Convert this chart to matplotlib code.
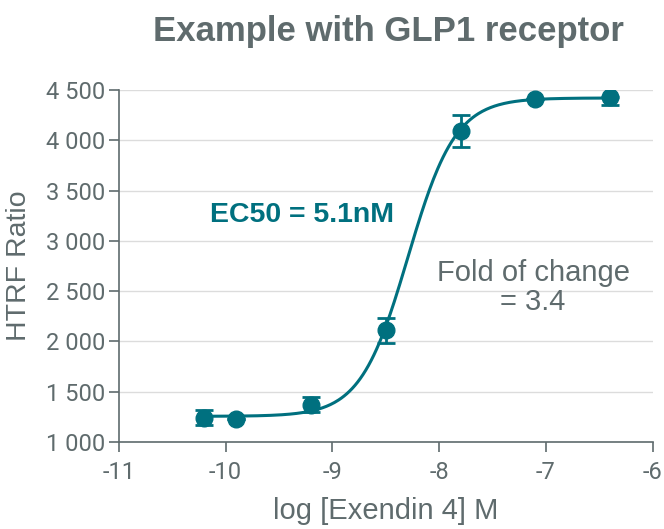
import numpy as np
import matplotlib.pyplot as plt
from matplotlib.ticker import FuncFormatter

# measured points (mean with lower / upper error)
log_conc = [-10.2, -9.9, -9.2, -8.5, -7.8, -7.1, -6.4]
htrf_ratio = [1240, 1230, 1370, 2110, 4090, 4410, 4430]
err_low = [75, 0, 75, 125, 160, 0, 80]
err_high = [75, 0, 75, 125, 160, 0, 0]

# 4-parameter logistic fit
bottom, top = 1255, 4420
log_ec50 = np.log10(5.1e-9)
hill = 1.95

teal = '#00707f'
grey = '#5f6b6d'

plt.rcParams['font.family'] = ['Liberation Sans Narrow', 'Roboto', 'DejaVu Sans']

fig = plt.figure(figsize=(6.64, 5.29), dpi=100)
ax = fig.add_axes([0.179, 0.1645, 0.804, 0.6655])

xs = np.linspace(-10.2, -6.4, 300)
fit = bottom + (top - bottom) / (1 + 10 ** ((log_ec50 - xs) * hill))
ax.plot(xs, fit, color=teal, lw=2.2, zorder=3)
ax.errorbar(log_conc, htrf_ratio, yerr=[err_low, err_high], fmt='o', color=teal,
            ms=12, capsize=6.5, capthick=2, elinewidth=2, zorder=4)

ax.set_xlim(-11, -6)
ax.set_ylim(1000, 4500)
ax.set_xticks(range(-11, -5))
ax.set_yticks(range(1000, 4501, 500))
ax.yaxis.set_major_formatter(FuncFormatter(lambda v, p: f'{int(v):,}'.replace(',', ' ')))
ax.xaxis.set_major_formatter(FuncFormatter(lambda v, p: f'{int(v)}'))

ax.grid(axis='y', color='#dcdcdc', lw=1)
ax.set_axisbelow(True)
for s in ['top', 'right']:
    ax.spines[s].set_visible(False)
for s in ['left', 'bottom']:
    ax.spines[s].set_color(grey)
    ax.spines[s].set_linewidth(1.2)
ax.tick_params(colors=grey, labelsize=17, length=7, width=1.2)
ax.tick_params(axis='x', pad=7)
ax.tick_params(axis='y', pad=3)

ax.set_xlabel('log [Exendin 4] M', color=grey, fontsize=21, labelpad=9,
              family='Liberation Sans')
ax.set_ylabel('HTRF Ratio', color=grey, fontsize=20.5, labelpad=10,
              family='Liberation Sans')

fig.text(0.585, 0.94, 'Example with GLP1 receptor', ha='center', va='center',
         fontsize=25, fontweight='bold', color=grey, family='Liberation Sans')

ax.text(-10.15, 3260, 'EC50 = 5.1nM', color=teal, fontsize=20.5,
        fontweight='bold', ha='left', va='center', family='Liberation Sans')
ax.text(-7.12, 2540, 'Fold of change\n= 3.4', color=grey, fontsize=21,
        ha='center', va='center', linespacing=1.05, family='Liberation Sans')

fig.savefig('out.png', dpi=100)
